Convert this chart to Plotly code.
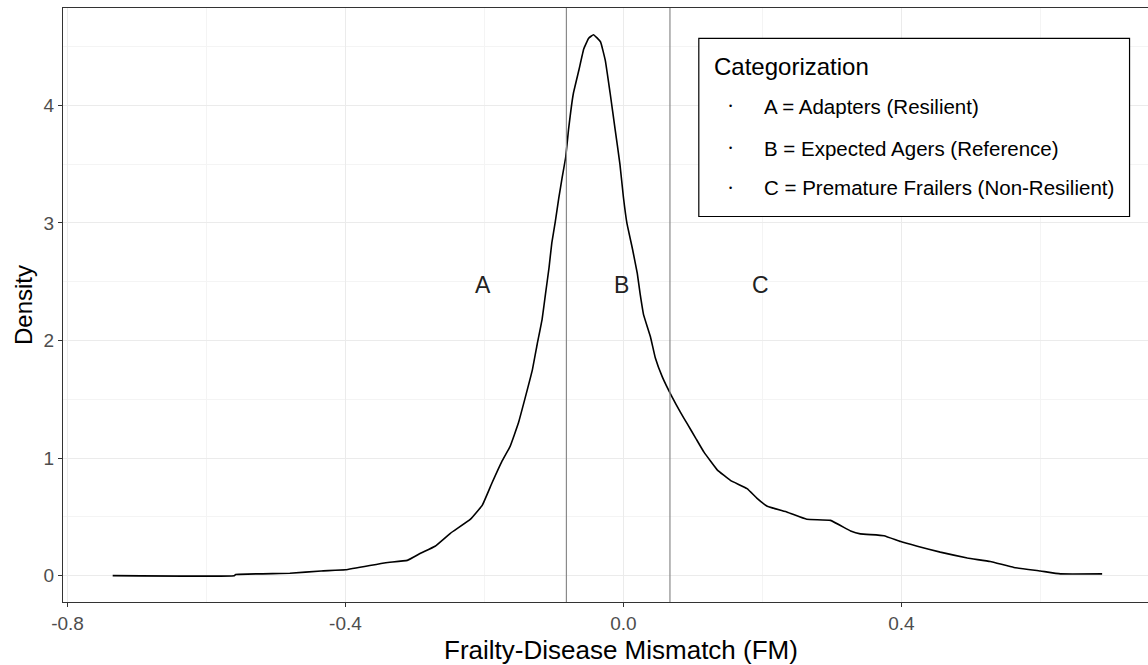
import plotly.graph_objects as go

# Density curve of Frailty-Disease Mismatch
fm_x = [-0.735, -0.56, -0.558, -0.48, -0.435, -0.40, -0.342, -0.311, -0.292, -0.271,
        -0.249, -0.22, -0.203, -0.189, -0.175, -0.163, -0.151, -0.141, -0.131, -0.124,
        -0.117, -0.112, -0.107, -0.103, -0.098, -0.093, -0.088, -0.083, -0.079, -0.072,
        -0.064, -0.057, -0.050, -0.043, -0.033, -0.026, -0.019, -0.012, -0.005, 0.0,
        0.005, 0.013, 0.020, 0.024, 0.029, 0.039, 0.046, 0.056, 0.070, 0.082,
        0.092, 0.104, 0.116, 0.135, 0.154, 0.178, 0.192, 0.207, 0.236, 0.264,
        0.298, 0.327, 0.341, 0.375, 0.399, 0.423, 0.456, 0.495, 0.528, 0.562,
        0.600, 0.629, 0.689]
density = [0.0, 0.0, 0.01, 0.02, 0.04, 0.05, 0.11, 0.13, 0.19, 0.25,
           0.36, 0.48, 0.60, 0.79, 0.97, 1.10, 1.30, 1.52, 1.75, 1.97,
           2.18, 2.40, 2.62, 2.83, 3.01, 3.21, 3.39, 3.56, 3.79, 4.10,
           4.30, 4.48, 4.57, 4.60, 4.54, 4.38, 4.10, 3.80, 3.50, 3.22,
           3.00, 2.78, 2.57, 2.40, 2.22, 2.03, 1.85, 1.69, 1.52, 1.39,
           1.29, 1.17, 1.05, 0.90, 0.81, 0.74, 0.66, 0.59, 0.54, 0.48,
           0.47, 0.38, 0.355, 0.34, 0.29, 0.25, 0.20, 0.15, 0.12, 0.07,
           0.04, 0.015, 0.015]

cutoffs = [-0.082, 0.067]
region_labels = ["A", "B", "C"]
region_x = [-0.2, 0.0, 0.2]
region_y = [2.47, 2.47, 2.47]

legend_title = "Categorization"
legend_items = ["A = Adapters (Resilient)",
                "B = Expected Agers (Reference)",
                "C = Premature Frailers (Non-Resilient)"]

x_title = "Frailty-Disease Mismatch (FM)"
y_title = "Density"
x_ticks = [-0.8, -0.4, 0.0, 0.4]
y_ticks = [0, 1, 2, 3, 4]

FONT = "Liberation Sans, Arial, sans-serif"

fig = go.Figure()
fig.add_trace(go.Scatter(x=fm_x, y=density, mode="lines",
                         line=dict(color="black", width=1.6, shape="spline", smoothing=0.3),
                         showlegend=False, hoverinfo="x+y"))

shapes = []
for c in cutoffs:
    shapes.append(dict(type="line", xref="x", yref="paper", x0=c, x1=c, y0=0, y1=1,
                       line=dict(color="#8a8a8a", width=1.2), layer="above"))

# legend box
lx0, lx1, ly0, ly1 = 0.586, 0.983, 0.649, 0.949
shapes.append(dict(type="rect", xref="paper", yref="paper", x0=lx0, x1=lx1, y0=ly0, y1=ly1,
                   line=dict(color="black", width=1.2), fillcolor="white", layer="above"))

annotations = []
for lab, xx, yy in zip(region_labels, region_x, region_y):
    annotations.append(dict(x=xx, y=yy, xref="x", yref="y", text=lab, showarrow=False,
                            xshift=-1.5,
                            font=dict(family=FONT, size=23, color="#222222")))

annotations.append(dict(x=0.598, y=0.901, xref="paper", yref="paper", text=legend_title,
                        showarrow=False, xanchor="left", yanchor="middle",
                        font=dict(family=FONT, size=24, color="black")))
item_y = [0.835, 0.764, 0.697]
for txt, yy in zip(legend_items, item_y):
    annotations.append(dict(x=0.615, y=yy, xref="paper", yref="paper", text="•",
                            showarrow=False, xanchor="center", yanchor="middle",
                            font=dict(family=FONT, size=9, color="black")))
    annotations.append(dict(x=0.644, y=yy, xref="paper", yref="paper", text=txt,
                            showarrow=False, xanchor="left", yanchor="middle",
                            font=dict(family=FONT, size=20.5, color="black")))

# x-axis title (the original panel is cropped on the right, so the title sits right of centre)
annotations.append(dict(x=0.514, y=-0.081, xref="paper", yref="paper", text=x_title,
                        showarrow=False, xanchor="center", yanchor="middle",
                        font=dict(family=FONT, size=26, color="black")))

fig.update_layout(
    width=1148, height=665,
    margin=dict(l=63, r=0, t=8, b=63),
    paper_bgcolor="white", plot_bgcolor="white",
    font=dict(family=FONT, color="#4D4D4D"),
    shapes=shapes, annotations=annotations,
    showlegend=False,
)
fig.update_xaxes(
    range=[-0.8065, 0.755], tickvals=x_ticks, ticktext=[f"{v:.1f}" for v in x_ticks],
    showgrid=True, gridcolor="#EBEBEB", gridwidth=1.2,
    minor=dict(dtick=0.2, tick0=-0.8, showgrid=True, gridcolor="#F4F4F4", gridwidth=0.8),
    showline=True, linecolor="#333333", linewidth=1.2, mirror=True,
    ticks="outside", ticklen=4, tickcolor="#333333", tickwidth=1,
    tickfont=dict(family=FONT, size=19, color="#4D4D4D"),
    zeroline=False,
)
fig.update_yaxes(
    range=[-0.224, 4.827], tickvals=y_ticks,
    showgrid=True, gridcolor="#EBEBEB", gridwidth=1.2,
    minor=dict(dtick=0.5, tick0=0, showgrid=True, gridcolor="#F4F4F4", gridwidth=0.8),
    showline=True, linecolor="#333333", linewidth=1.2, mirror=False,
    ticks="outside", ticklen=4, tickcolor="#333333", tickwidth=1,
    tickfont=dict(family=FONT, size=19, color="#4D4D4D"),
    zeroline=False,
    title=dict(text=y_title, standoff=4,
               font=dict(family=FONT, size=24, color="black")),
)

fig.write_html("out.html", config={"displayModeBar": False},
               post_script="document.body.style.margin='0px';")
